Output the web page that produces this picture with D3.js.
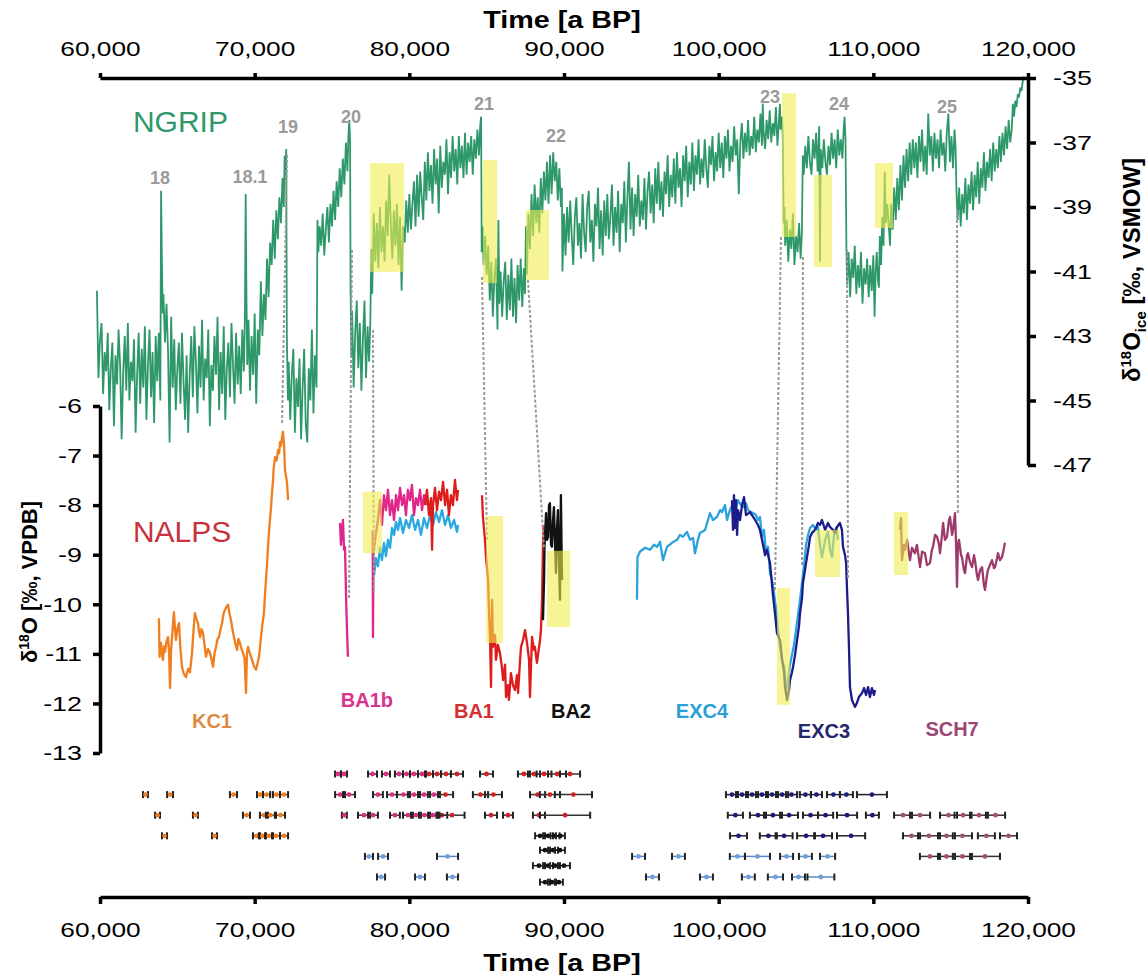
<!DOCTYPE html>
<html>
<head>
<meta charset="utf-8">
<script src="https://cdn.jsdelivr.net/npm/d3@7"></script>
<style>
  body { margin: 0; background: #fff; }
  svg { display: block; font-family: "Liberation Sans", Arial, sans-serif; }
</style>
</head>
<body>
<div id="chart"></div>
<script>
// Time is in ka (thousand years BP); axis labels show years
const timeTicks = [60, 70, 80, 90, 100, 110, 120];
const iceTicks = [-35, -37, -39, -41, -43, -45, -47];
const alpsTicks = [-6, -7, -8, -9, -10, -11, -12, -13];

// NGRIP d18O ice record [ka, permil VSMOW]
const ngrip = [
  [59.8,-41.6],[59.9,-44.3],[60.0,-43.1],[60.1,-42.6],[60.2,-44.8],[60.3,-43.5],[60.4,-44.1],[60.5,-42.9],[60.6,-45.3],[60.7,-44.0],
  [60.8,-43.2],[60.9,-45.8],[61.0,-43.6],[61.1,-44.5],[61.2,-42.8],[61.3,-43.9],[61.4,-46.2],[61.5,-44.1],[61.6,-43.0],[61.7,-44.7],
  [61.8,-42.6],[61.9,-45.0],[62.0,-43.8],[62.1,-44.4],[62.2,-43.1],[62.3,-46.0],[62.4,-44.2],[62.5,-42.9],[62.6,-45.1],[62.7,-43.4],
  [62.8,-44.6],[62.9,-42.7],[63.0,-45.6],[63.1,-43.9],[63.2,-42.8],[63.3,-44.9],[63.4,-43.5],[63.5,-45.7],[63.6,-43.0],[63.7,-44.4],
  [63.8,-42.9],[63.9,-45.0],[63.95,-38.5],[64.0,-40.6],[64.05,-42.3],[64.1,-41.7],[64.2,-43.2],[64.3,-42.0],[64.4,-43.5],[64.5,-46.3],
  [64.6,-42.4],[64.7,-44.6],[64.8,-43.1],[64.9,-45.3],[65.0,-44.0],[65.1,-43.2],[65.2,-45.1],[65.3,-42.9],[65.4,-44.4],[65.5,-45.6],
  [65.6,-43.6],[65.7,-46.0],[65.8,-44.2],[65.9,-43.0],[66.0,-44.9],[66.1,-42.7],[66.2,-43.8],[66.3,-45.4],[66.4,-43.3],[66.5,-44.6],
  [66.6,-42.5],[66.7,-45.0],[66.8,-43.7],[66.9,-44.3],[67.0,-42.8],[67.1,-45.8],[67.2,-43.9],[67.3,-44.7],[67.4,-43.0],[67.5,-44.2],
  [67.6,-42.4],[67.7,-45.3],[67.8,-43.5],[67.9,-44.8],[68.0,-42.7],[68.1,-45.6],[68.2,-44.0],[68.3,-43.2],[68.4,-44.9],[68.5,-42.6],
  [68.6,-43.9],[68.7,-45.1],[68.8,-42.9],[68.9,-44.5],[69.0,-43.3],[69.1,-44.8],[69.2,-42.8],[69.3,-44.1],[69.37,-42.4],[69.42,-38.6],
  [69.47,-41.8],[69.52,-43.9],[69.6,-42.5],[69.7,-44.7],[69.8,-43.0],[69.9,-44.2],[70.0,-42.3],[70.1,-45.1],[70.2,-42.8],[70.3,-43.6],
  [70.4,-41.3],[70.5,-43.0],[70.6,-41.7],[70.7,-42.5],[70.8,-40.6],[70.9,-41.8],[71.0,-40.1],[71.1,-40.8],[71.2,-39.4],[71.3,-40.6],
  [71.4,-39.1],[71.5,-40.0],[71.6,-38.7],[71.7,-39.5],[71.8,-38.1],[71.88,-39.0],[71.94,-37.4],[72.0,-37.9],[72.04,-37.2],[72.08,-43.0],
  [72.15,-45.0],[72.2,-43.8],[72.3,-45.6],[72.4,-44.2],[72.5,-43.4],[72.6,-46.0],[72.7,-44.3],[72.8,-45.2],[72.9,-43.7],[73.0,-46.2],
  [73.1,-44.6],[73.2,-43.4],[73.3,-45.7],[73.4,-46.3],[73.5,-44.0],[73.6,-45.0],[73.7,-42.8],[73.8,-45.4],[73.9,-43.6],[74.0,-44.6],
  [74.06,-39.4],[74.12,-40.4],[74.2,-39.6],[74.3,-40.2],[74.4,-39.2],[74.5,-40.5],[74.6,-39.7],[74.7,-39.0],[74.8,-40.1],[74.9,-38.9],
  [75.0,-39.6],[75.1,-38.5],[75.2,-39.4],[75.3,-38.2],[75.4,-39.0],[75.5,-37.8],[75.6,-38.7],[75.7,-37.5],[75.8,-38.3],[75.9,-37.0],
  [76.0,-37.9],[76.06,-36.8],[76.12,-36.3],[76.17,-37.0],[76.2,-41.5],[76.25,-43.6],[76.3,-42.2],[76.4,-44.6],[76.5,-42.9],[76.6,-41.9],
  [76.7,-44.0],[76.8,-42.6],[76.9,-44.7],[77.0,-43.1],[77.1,-41.9],[77.2,-44.3],[77.3,-42.7],[77.4,-43.8],[77.48,-42.5],[77.54,-40.3],
  [77.6,-41.7],[77.7,-39.2],[77.8,-40.7],[77.9,-39.5],[78.0,-40.9],[78.1,-39.0],[78.2,-40.4],[78.3,-39.6],[78.4,-40.7],[78.5,-38.8],
  [78.6,-39.9],[78.7,-38.0],[78.8,-39.5],[78.9,-40.6],[79.0,-39.1],[79.1,-40.2],[79.2,-38.9],[79.3,-40.8],[79.4,-39.3],[79.5,-41.6],
  [79.6,-39.6],[79.7,-40.1],[79.8,-38.8],[79.9,-39.8],[80.0,-38.6],[80.1,-39.7],[80.2,-38.9],[80.3,-38.2],[80.4,-39.6],[80.5,-38.0],
  [80.6,-39.3],[80.7,-37.9],[80.8,-38.7],[80.9,-39.4],[81.0,-37.6],[81.1,-38.8],[81.2,-37.3],[81.3,-38.5],[81.4,-37.7],[81.5,-38.9],
  [81.6,-37.2],[81.7,-38.3],[81.8,-37.5],[81.9,-39.2],[82.0,-37.1],[82.1,-38.4],[82.2,-37.6],[82.3,-38.0],[82.4,-36.9],[82.5,-38.6],
  [82.6,-37.3],[82.7,-38.1],[82.8,-36.8],[82.9,-37.9],[83.0,-37.2],[83.1,-38.3],[83.2,-36.8],[83.3,-37.8],[83.4,-37.1],[83.5,-38.1],
  [83.6,-36.7],[83.7,-38.0],[83.8,-37.0],[83.9,-37.6],[84.0,-36.8],[84.1,-38.0],[84.2,-36.9],[84.3,-37.5],[84.4,-36.6],[84.5,-37.4],
  [84.58,-36.5],[84.64,-36.2],[84.68,-40.4],[84.74,-39.6],[84.8,-40.8],[84.9,-39.9],[85.0,-41.1],[85.1,-40.2],[85.2,-41.9],[85.3,-40.7],
  [85.4,-42.4],[85.5,-41.2],[85.6,-40.6],[85.7,-42.8],[85.76,-39.4],[85.82,-42.0],[85.9,-41.0],[86.0,-42.4],[86.1,-41.3],[86.2,-40.7],
  [86.3,-42.5],[86.4,-41.1],[86.5,-42.2],[86.6,-40.6],[86.7,-42.4],[86.8,-41.2],[86.9,-42.6],[87.0,-40.8],[87.1,-41.9],[87.2,-40.6],
  [87.3,-42.1],[87.4,-40.9],[87.48,-41.7],[87.54,-39.6],[87.6,-41.1],[87.7,-39.2],[87.8,-40.3],[87.9,-38.6],[88.0,-39.9],[88.1,-38.3],
  [88.2,-39.5],[88.3,-38.7],[88.4,-39.8],[88.5,-38.1],[88.6,-39.2],[88.7,-37.9],[88.8,-38.8],[88.9,-37.6],[89.0,-38.9],[89.1,-37.4],
  [89.2,-38.6],[89.3,-37.3],[89.4,-38.2],[89.5,-37.6],[89.6,-38.8],[89.7,-37.8],[89.8,-39.0],[89.86,-38.4],[89.9,-41.0],[90.0,-39.2],
  [90.1,-40.5],[90.2,-39.0],[90.3,-40.1],[90.4,-38.8],[90.5,-39.9],[90.6,-40.8],[90.7,-39.3],[90.8,-38.7],[90.9,-40.2],[91.0,-39.5],
  [91.1,-40.6],[91.2,-38.6],[91.3,-39.8],[91.4,-40.4],[91.5,-39.0],[91.6,-38.5],[91.7,-40.1],[91.8,-39.4],[91.9,-40.7],[92.0,-38.9],
  [92.1,-39.6],[92.2,-38.4],[92.3,-40.3],[92.4,-39.1],[92.5,-40.5],[92.6,-38.8],[92.7,-39.9],[92.8,-38.6],[92.9,-40.0],[93.0,-39.3],
  [93.1,-38.3],[93.2,-40.2],[93.3,-39.0],[93.4,-39.8],[93.5,-38.5],[93.6,-40.4],[93.7,-38.9],[93.8,-39.5],[93.9,-38.2],[94.0,-40.1],
  [94.1,-38.7],[94.2,-37.6],[94.3,-39.7],[94.4,-38.4],[94.5,-39.9],[94.6,-38.6],[94.7,-39.3],[94.8,-38.0],[94.9,-39.6],[95.0,-38.8],
  [95.1,-39.4],[95.2,-38.1],[95.3,-39.7],[95.4,-38.5],[95.5,-37.9],[95.6,-39.2],[95.7,-38.3],[95.8,-39.5],[95.9,-37.8],[96.0,-38.9],
  [96.1,-37.6],[96.2,-39.1],[96.3,-38.2],[96.4,-39.3],[96.5,-37.9],[96.6,-38.6],[96.7,-37.4],[96.8,-39.0],[96.9,-38.0],[97.0,-38.7],
  [97.1,-37.5],[97.2,-38.9],[97.3,-37.3],[97.4,-38.4],[97.5,-37.8],[97.6,-39.0],[97.7,-37.4],[97.8,-38.2],[97.9,-37.1],[98.0,-38.7],
  [98.1,-37.6],[98.2,-38.3],[98.3,-37.0],[98.4,-38.5],[98.5,-37.4],[98.6,-38.0],[98.7,-36.9],[98.8,-38.3],[98.9,-37.5],[99.0,-38.1],
  [99.1,-36.9],[99.2,-37.8],[99.3,-38.4],[99.4,-37.1],[99.5,-37.7],[99.6,-36.8],[99.7,-38.2],[99.8,-37.3],[99.9,-37.9],[100.0,-36.7],
  [100.1,-37.8],[100.2,-37.0],[100.3,-38.1],[100.4,-36.8],[100.5,-37.5],[100.6,-36.6],[100.7,-37.9],[100.8,-37.1],[100.9,-37.6],[101.0,-36.5],
  [101.1,-37.4],[101.2,-36.9],[101.3,-38.6],[101.4,-37.0],[101.5,-36.4],[101.6,-37.5],[101.7,-36.7],[101.8,-37.3],[101.9,-36.3],[102.0,-37.4],
  [102.1,-36.8],[102.2,-37.2],[102.3,-36.2],[102.4,-37.3],[102.5,-36.6],[102.6,-37.0],[102.7,-36.1],[102.8,-37.1],[102.85,-35.8],[102.9,-36.6],
  [103.0,-37.2],[103.1,-36.3],[103.2,-36.9],[103.3,-36.0],[103.4,-37.0],[103.5,-36.4],[103.6,-36.8],[103.7,-35.9],[103.8,-37.1],[103.9,-36.3],
  [103.96,-35.8],[104.0,-36.6],[104.1,-36.2],[104.15,-36.9],[104.2,-39.5],[104.25,-39.0],[104.3,-40.2],[104.4,-39.4],[104.5,-40.7],[104.6,-39.7],
  [104.7,-40.3],[104.8,-39.2],[104.9,-40.8],[105.0,-39.9],[105.1,-40.4],[105.2,-39.5],[105.3,-40.6],[105.38,-39.8],[105.44,-37.4],[105.5,-38.0],
  [105.6,-37.1],[105.7,-37.8],[105.8,-36.8],[105.9,-37.6],[106.0,-38.0],[106.1,-36.9],[106.2,-37.5],[106.3,-36.7],[106.4,-37.9],[106.5,-36.5],
  [106.55,-40.7],[106.6,-37.2],[106.7,-37.8],[106.8,-36.9],[106.9,-37.6],[107.0,-38.0],[107.1,-37.1],[107.2,-37.7],[107.3,-36.7],[107.4,-37.5],
  [107.5,-36.9],[107.6,-37.8],[107.7,-36.6],[107.8,-37.4],[107.9,-36.9],[108.0,-37.5],[108.08,-36.6],[108.14,-36.2],[108.2,-36.9],[108.26,-40.3],
  [108.3,-41.4],[108.4,-40.4],[108.5,-41.8],[108.6,-40.6],[108.7,-41.2],[108.8,-40.2],[108.9,-41.7],[109.0,-40.8],[109.1,-41.5],[109.2,-40.4],
  [109.3,-42.0],[109.4,-40.9],[109.5,-41.4],[109.6,-40.6],[109.7,-41.8],[109.8,-40.8],[109.9,-41.6],[110.0,-40.5],[110.08,-42.4],[110.15,-41.0],
  [110.22,-40.4],[110.3,-41.3],[110.36,-41.5],[110.42,-39.9],[110.5,-40.8],[110.58,-39.3],[110.66,-40.2],[110.74,-37.9],[110.8,-39.5],[110.9,-38.9],
  [111.0,-39.6],[111.08,-40.2],[111.15,-38.9],[111.25,-39.7],[111.35,-38.4],[111.45,-39.4],[111.55,-38.1],[111.65,-39.1],[111.75,-37.7],[111.85,-38.8],
  [111.95,-37.4],[112.05,-38.4],[112.15,-37.2],[112.25,-38.2],[112.35,-37.0],[112.45,-38.0],[112.55,-36.9],[112.65,-37.8],[112.75,-37.0],[112.85,-38.1],
  [112.95,-36.8],[113.05,-37.6],[113.15,-36.6],[113.25,-37.9],[113.35,-37.1],[113.45,-38.0],[113.55,-36.1],[113.65,-37.4],[113.75,-36.8],[113.85,-37.9],
  [113.95,-36.7],[114.05,-37.5],[114.15,-36.9],[114.25,-37.8],[114.35,-36.6],[114.45,-37.4],[114.55,-37.0],[114.65,-37.9],[114.75,-36.7],[114.85,-36.1],
  [114.95,-37.6],[115.05,-36.8],[115.15,-37.8],[115.25,-36.6],[115.32,-37.2],[115.38,-38.6],[115.45,-39.4],[115.55,-38.4],[115.65,-39.6],[115.75,-38.6],
  [115.85,-39.2],[115.95,-38.1],[116.05,-39.4],[116.15,-38.3],[116.25,-38.9],[116.35,-37.9],[116.45,-39.1],[116.55,-38.0],[116.65,-38.7],[116.75,-37.6],
  [116.85,-38.9],[116.95,-37.8],[117.05,-38.4],[117.15,-37.3],[117.25,-38.5],[117.35,-37.6],[117.45,-38.1],[117.55,-37.2],[117.65,-38.2],[117.75,-37.0],
  [117.85,-37.9],[117.95,-37.2],[118.05,-37.8],[118.15,-36.8],[118.25,-37.6],[118.35,-36.7],[118.45,-37.4],[118.55,-36.5],[118.65,-37.2],[118.75,-36.3],
  [118.85,-37.0],[118.95,-36.6],[119.02,-35.8],[119.1,-36.2],[119.18,-35.7],[119.26,-35.9],[119.34,-35.5],[119.42,-35.6],[119.5,-35.3],[119.58,-35.4],
  [119.66,-35.1],[119.72,-34.95]
];

// NALPS stalagmite d18O records [ka, permil VPDB]
const kc1 = [
  [63.81,-10.28],[63.85,-11.06],[63.94,-10.78],[64.01,-11.0],[64.07,-11.12],[64.14,-10.85],[64.20,-10.96],[64.30,-10.75],[64.40,-10.66],[64.47,-11.0],
  [64.53,-11.69],[64.60,-10.9],[64.66,-10.66],[64.72,-10.4],[64.78,-10.16],[64.85,-10.5],[64.91,-10.72],[65.0,-10.5],[65.11,-10.38],[65.2,-10.9],
  [65.30,-11.26],[65.42,-11.4],[65.56,-11.47],[65.7,-11.3],[65.82,-11.37],[65.95,-10.98],[66.05,-10.5],[66.14,-10.18],[66.24,-10.3],[66.34,-10.38],
  [66.40,-10.55],[66.47,-10.66],[66.56,-10.5],[66.66,-10.58],[66.75,-10.8],[66.85,-11.06],[66.98,-10.9],[67.11,-10.98],[67.2,-11.1],[67.31,-11.26],
  [67.40,-11.0],[67.50,-10.86],[67.6,-10.7],[67.69,-10.66],[67.8,-10.5],[67.89,-10.38],[67.98,-10.2],[68.08,-10.11],[68.18,-10.05],[68.28,-10.01],
  [68.38,-10.2],[68.47,-10.32],[68.56,-10.5],[68.66,-10.66],[68.76,-10.8],[68.86,-10.92],[68.95,-10.7],[69.05,-10.78],[69.15,-10.9],[69.25,-10.98],
  [69.35,-11.1],[69.44,-11.79],[69.50,-11.0],[69.57,-10.86],[69.7,-11.0],[69.83,-11.12],[69.96,-11.25],[70.09,-11.32],[70.18,-11.2],[70.28,-11.06],
  [70.35,-10.85],[70.41,-10.66],[70.50,-10.4],[70.60,-10.18],[70.66,-9.85],[70.73,-9.51],[70.80,-9.2],[70.86,-8.84],[70.96,-8.4],[71.06,-8.04],
  [71.12,-7.75],[71.19,-7.49],[71.22,-7.29],[71.32,-7.03],[71.42,-7.1],[71.51,-6.89],[71.58,-6.95],[71.64,-6.73],[71.70,-6.8],[71.77,-6.63],
  [71.83,-6.52],[71.90,-6.79],[71.96,-7.29],[72.02,-7.4],[72.09,-7.55],[72.16,-7.90]
];
const ba1bA = [
  [75.52,-8.36],[75.58,-8.80],[75.65,-8.50],[75.71,-8.30],[75.78,-8.90],[75.84,-8.84],[75.91,-9.85],[75.97,-10.52],[76.03,-11.06]
];
const ba1bB = [
  [77.63,-8.50],[77.65,-10.66],[77.68,-9.00],[77.78,-8.70],[77.97,-8.30],[78.10,-7.90],[78.23,-8.40],[78.36,-7.80],[78.49,-8.10],[78.62,-7.69],
  [78.75,-8.20],[78.88,-7.90],[79.01,-8.30],[79.14,-7.80],[79.27,-8.10],[79.40,-7.65],[79.53,-8.00],[79.66,-7.80],[79.78,-8.20],[79.91,-7.69],
  [80.04,-7.90],[80.17,-7.59],[80.30,-8.20],[80.43,-7.86],[80.56,-8.00],[80.69,-7.69],[80.82,-8.10],[80.95,-7.80],[81.08,-8.00]
];
const cyanBA = [
  [77.72,-9.41],[77.84,-9.07],[77.97,-9.23],[78.10,-8.86],[78.23,-9.11],[78.36,-8.76],[78.49,-9.03],[78.62,-8.70],[78.75,-8.86],[78.88,-8.46],
  [79.01,-8.60],[79.14,-8.34],[79.27,-8.50],[79.40,-8.26],[79.59,-8.56],[79.78,-8.30],[79.98,-8.46],[80.17,-8.20],[80.37,-8.50],[80.56,-8.30],
  [80.75,-8.60],[80.95,-8.26],[81.14,-8.46],[81.34,-8.20],[81.53,-8.40],[81.72,-8.14],[81.92,-8.34],[82.11,-8.10],[82.31,-8.40],[82.50,-8.20],
  [82.69,-8.46],[82.89,-8.30],[83.08,-8.54],[83.15,-8.40]
];
const ba1A = [
  [81.01,-8.00],[81.14,-7.69],[81.27,-8.20],[81.40,-7.86],[81.47,-8.90],[81.53,-8.00],[81.66,-7.65],[81.79,-8.10],[81.92,-7.73],[82.05,-7.90],
  [82.18,-7.53],[82.31,-8.00],[82.44,-7.69],[82.56,-8.20],[82.69,-7.80],[82.82,-8.00],[82.95,-7.49],[83.08,-7.90],[83.15,-7.69]
];
const ba1B = [
  [84.70,-7.80],[84.76,-8.24],[84.89,-8.70],[84.96,-9.05],[85.09,-9.51],[85.15,-10.11],[85.22,-10.72],[85.28,-11.67],[85.35,-9.91],[85.41,-10.86],
  [85.54,-10.62],[85.60,-11.12],[85.73,-10.82],[85.86,-10.98],[85.99,-11.28],[86.06,-11.53],[86.19,-11.22],[86.25,-11.87],[86.38,-11.63],[86.44,-11.93],
  [86.57,-11.39],[86.70,-11.63],[86.83,-11.73],[86.96,-11.43],[87.03,-11.79],[87.16,-11.12],[87.22,-10.86],[87.35,-10.72],[87.48,-10.52],[87.61,-10.78],
  [87.74,-11.12],[87.80,-11.87],[87.93,-10.66],[88.06,-10.92],[88.12,-10.86],[88.25,-11.18],[88.32,-11.02],[88.45,-10.72],[88.51,-10.52],[88.58,-9.91],
  [88.64,-8.80],[88.68,-8.40]
];
const ba2 = [
  [88.64,-10.32],[88.71,-9.51],[88.74,-8.84],[88.84,-8.16],[88.90,-8.70],[88.97,-8.64],[89.03,-8.00],[89.09,-7.96],[89.16,-8.80],[89.22,-8.84],
  [89.29,-8.30],[89.35,-8.04],[89.41,-8.70],[89.48,-9.37],[89.54,-8.50],[89.61,-8.10],[89.67,-9.11],[89.74,-9.91],[89.80,-7.80],[89.87,-9.51]
];
const exc4 = [
  [94.72,-9.91],[94.75,-9.05],[94.91,-8.94],[95.24,-8.86],[95.56,-8.90],[95.82,-8.80],[96.01,-8.84],[96.21,-8.74],[96.40,-9.11],[96.66,-8.84],
  [96.98,-8.76],[97.31,-8.70],[97.50,-8.60],[97.69,-8.64],[97.95,-8.54],[98.15,-8.70],[98.34,-8.66],[98.47,-8.97],[98.66,-8.70],[98.79,-8.56],
  [99.12,-8.50],[99.31,-8.30],[99.44,-8.16],[99.63,-8.30],[99.89,-8.24],[100.09,-8.10],[100.22,-8.14],[100.41,-8.00],[100.54,-8.30],[100.73,-8.10],
  [100.93,-7.96],[101.12,-8.06],[101.25,-7.90],[101.44,-8.00],[101.57,-8.04],[101.77,-7.96],[101.90,-8.10],[102.09,-8.14],[102.22,-8.16],[102.41,-8.20],
  [102.54,-8.30],[102.67,-8.24],[102.80,-8.64],[102.93,-8.50],[103.06,-8.97],[103.19,-8.84],[103.32,-9.37],[103.45,-9.51],[103.58,-9.77],[103.71,-10.11],
  [103.84,-10.52],[103.97,-10.86],[104.10,-11.12],[104.23,-11.26],[104.36,-11.73],[104.49,-11.53],[104.61,-11.22],[104.74,-11.02],[104.87,-10.82],[105.00,-10.52],
  [105.13,-10.22],[105.26,-9.91],[105.39,-9.57],[105.52,-9.21],[105.65,-8.80],[105.78,-8.60],[105.91,-8.46],[106.10,-8.40],[106.29,-8.50],[106.42,-8.44],
  [106.55,-8.80],[106.68,-9.05],[106.88,-8.70],[107.07,-8.54],[107.20,-8.90],[107.33,-9.05],[107.46,-8.60],[107.59,-8.46],[107.72,-8.70]
];
const exc3 = [
  [100.86,-7.90],[100.93,-8.50],[100.99,-7.80],[101.06,-8.46],[101.12,-7.90],[101.19,-8.60],[101.25,-8.10],[101.38,-8.30],[101.51,-8.00],[101.64,-7.84],
  [101.77,-8.20],[102.03,-8.14],[102.28,-8.26],[102.54,-8.40],[102.67,-8.50],[102.87,-8.80],[103.00,-9.01],[103.12,-8.90],[103.32,-9.17],[103.51,-9.81],
  [103.64,-10.18],[103.77,-10.58],[103.90,-10.68],[103.97,-10.72],[104.10,-11.12],[104.23,-11.37],[104.29,-11.67],[104.42,-11.93],[104.55,-11.73],[104.61,-11.53],
  [104.74,-11.37],[104.81,-11.26],[104.94,-11.02],[105.07,-10.72],[105.20,-10.42],[105.26,-10.18],[105.39,-9.87],[105.45,-9.57],[105.58,-9.31],[105.71,-9.05],
  [105.84,-8.80],[105.91,-8.64],[106.04,-8.56],[106.23,-8.50],[106.42,-8.36],[106.55,-8.40],[106.68,-8.30],[106.88,-8.50],[107.07,-8.36],[107.20,-8.44],
  [107.39,-8.50],[107.52,-8.56],[107.65,-8.44],[107.84,-8.36],[107.97,-8.50],[108.04,-8.84],[108.17,-9.01],[108.24,-9.17],[108.30,-9.71],[108.36,-10.18],
  [108.43,-10.92],[108.49,-11.67],[108.62,-11.93],[108.81,-12.07],[108.94,-11.99],[109.07,-11.87],[109.27,-11.79],[109.40,-11.69],[109.53,-11.83],[109.66,-11.67],
  [109.78,-11.87],[109.91,-11.69],[110.04,-11.83],[110.11,-11.73]
];
const sch7 = [
  [111.72,-8.50],[111.79,-8.26],[111.85,-9.11],[111.98,-8.80],[112.05,-8.90],[112.18,-8.70],[112.37,-9.11],[112.50,-8.86],[112.69,-8.97],[112.82,-8.80],
  [113.02,-9.25],[113.15,-8.94],[113.34,-8.97],[113.47,-9.21],[113.66,-9.17],[113.79,-8.90],[113.86,-8.84],[113.99,-8.60],[114.12,-8.64],[114.25,-8.80],
  [114.31,-8.97],[114.44,-8.60],[114.51,-8.36],[114.63,-8.70],[114.76,-8.64],[114.89,-8.30],[114.96,-8.24],[115.09,-8.60],[115.15,-8.50],[115.28,-8.16],
  [115.34,-8.70],[115.41,-9.65],[115.47,-8.80],[115.54,-8.70],[115.67,-9.01],[115.73,-9.05],[115.86,-9.31],[115.93,-9.37],[116.06,-9.01],[116.12,-8.97],
  [116.25,-9.15],[116.38,-9.25],[116.51,-9.01],[116.57,-9.11],[116.70,-9.41],[116.77,-9.51],[116.90,-9.31],[117.03,-9.25],[117.15,-9.61],[117.22,-9.71],
  [117.35,-9.41],[117.41,-9.31],[117.54,-9.21],[117.67,-9.11],[117.80,-9.27],[117.87,-9.25],[118.00,-9.07],[118.06,-8.97],[118.19,-9.11],[118.32,-9.05],
  [118.45,-8.86],[118.51,-8.76]
];

// Yellow highlighted transitions [t0, t1, v0, v1]
const ngripBoxes = [
  [77.46, 79.66, -37.64, -41.01], [84.76, 85.67, -37.54, -41.36], [87.54, 89.03, -39.09, -41.26],
  [104.09, 105.00, -35.47, -39.93], [106.16, 107.33, -38.01, -40.86], [110.11, 111.27, -37.64, -39.65]
];
const nalpsBoxes = [
  [77.00, 78.23, -7.73, -8.97], [84.96, 86.06, -8.22, -10.78], [88.90, 90.39, -8.92, -10.46],
  [103.77, 104.61, -9.67, -12.03], [106.23, 107.84, -8.50, -9.45], [111.33, 112.24, -8.14, -9.41]
];

// Tie points NGRIP -> NALPS [tIce, vIce, tAlps, vAlps]
const tiePoints = [
  [72.09, -37.39, 71.77, -6.38], [76.29, -40.33, 76.10, -9.91], [77.65, -42.81, 77.71, -9.81],
  [84.70, -41.17, 85.02, -8.70], [87.67, -41.26, 88.71, -8.90], [104.03, -39.93, 103.64, -9.71],
  [105.45, -40.55, 105.39, -9.21], [108.30, -40.33, 108.36, -9.51], [115.41, -39.09, 115.47, -8.20]
];

// Interstadial numbers [label, ka, vIce]
const gisLabels = [
  ["18", 63.88, -38.29], ["18.1", 69.70, -38.26], ["19", 72.16, -36.71], ["20", 76.23, -36.40],
  ["21", 84.83, -35.99], ["22", 89.48, -36.98], ["23", 103.32, -35.78], ["24", 107.78, -35.99], ["25", 114.76, -36.09]
];

// Record names [label, ka, vAlps, color]
const recordLabels = [
  ["KC1", 67.24, -12.49, "#de8a45"], ["BA1b", 77.26, -12.07, "#d8348d"], ["BA1", 84.18, -12.29, "#d42f2f"],
  ["BA2", 90.45, -12.29, "#111111"], ["EXC4", 98.92, -12.29, "#2aa0d8"], ["EXC3", 106.81, -12.70, "#27276e"],
  ["SCH7", 115.09, -12.66, "#9b4774"]
];

// U-Th ages [ka, 2-sigma ka, row]
const kc1Ages = [
  [62.94,0.16,1],[64.53,0.19,1],[68.63,0.23,1],[70.34,0.19,1],[70.77,0.23,1],[71.41,0.23,1],[71.90,0.26,1],
  [63.72,0.16,2],[66.17,0.16,2],[69.47,0.23,2],[70.60,0.26,2],[71.02,0.29,2],[71.67,0.29,2],
  [64.17,0.16,3],[67.40,0.16,3],[70.12,0.23,3],[70.50,0.23,3],[70.93,0.26,3],[71.38,0.26,3],[71.90,0.26,3]
];
const ba1bAges = [
  [75.39,0.19,0],[75.78,0.19,0],[77.62,0.29,0],[78.49,0.26,0],[79.33,0.26,0],[79.82,0.23,0],[80.30,0.26,0],[80.82,0.26,0],
  [75.52,0.32,1],[76.10,0.39,1],[77.97,0.32,1],[78.88,0.32,1],[79.62,0.42,1],[80.30,0.39,1],[80.95,0.39,1],[81.59,0.39,1],
  [75.80,0.16,2],[77.07,0.39,2],[77.65,0.32,2],[79.07,0.32,2],[79.91,0.32,2],[80.43,0.32,2],[80.98,0.36,2],[81.53,0.32,2]
];
const ba1Ages = [
  [81.27,0.26,0],[81.79,0.26,0],[82.37,0.32,0],[83.08,0.39,0],[84.99,0.42,0],[87.41,0.39,0],[88.06,0.39,0],[88.71,0.48,0],[89.55,0.58,0],[90.39,0.65,0],
  [82.34,0.49,1],[84.60,0.49,1],[85.44,0.55,1],[88.29,0.49,1],[89.09,0.65,1],[90.61,1.20,1],
  [82.10,0.35,2],[82.76,0.81,2],[85.28,0.39,2],[86.38,0.32,2],[88.38,0.39,2],[90.07,1.62,2]
];
const ba2Ages = [
  [88.45,0.32,3],[88.97,0.32,3],[89.42,0.29,3],[89.77,0.29,3],
  [88.77,0.32,3.7],[89.29,0.32,3.7],[89.74,0.32,3.7],
  [88.38,0.39,4.45],[88.97,0.32,4.45],[89.42,0.32,4.45],[90.00,0.39,4.45],
  [88.77,0.32,5.25],[89.22,0.26,5.25],[89.67,0.26,5.25]
];
const blueAges = [
  [77.39,0.26,4],[78.30,0.32,4],[82.47,0.68,4],[94.82,0.42,4],[97.40,0.42,4],[101.21,0.49,4],[102.51,0.81,4],[104.39,0.42,4],[105.61,0.42,4],[107.04,0.49,4],
  [78.17,0.26,5],[80.69,0.32,5],[82.79,0.36,5],[95.72,0.42,5],[99.21,0.42,5],[101.92,0.42,5],[103.67,0.49,5],[105.16,0.42,5],[106.61,0.87,5]
];
const exc3Ages = [
  [100.86,0.39,1],[101.51,0.39,1],[102.16,0.39,1],[102.80,0.39,1],[103.45,0.39,1],[104.10,0.39,1],[104.71,0.36,1],[105.61,0.36,1],[106.32,0.36,1],[107.42,0.42,1],[108.26,0.42,1],[109.91,0.97,1],
  [101.08,0.49,2],[102.54,0.52,2],[103.51,0.58,2],[104.55,0.58,2],[105.94,0.49,2],[106.91,0.49,2],[108.30,0.65,2],[109.94,0.42,2],
  [101.28,0.55,3],[103.21,0.55,3],[104.23,0.55,3],[105.65,0.58,3],[106.75,0.58,3],[108.56,0.91,3]
];
const sch7Ages = [
  [111.92,0.58,2],[113.02,0.65,2],[114.86,0.55,2],[115.80,0.55,2],[116.83,0.58,2],[117.90,0.62,2],
  [112.47,0.55,3],[113.60,0.71,3],[114.73,0.55,3],[115.76,0.62,3],[117.31,0.55,3],[118.74,0.55,3],
  [113.66,0.65,4],[114.73,0.55,4],[115.76,0.62,4],[117.22,0.97,4]
];

// Scales
const x = d3.scaleLinear().domain([60, 120]).range([100, 1028]);
const yIce = d3.scaleLinear().domain([-35, -47]).range([78, 465]);
const yAlps = d3.scaleLinear().domain([-6, -13]).range([406, 753]);
const yRow = d3.scaleLinear().domain([0, 5]).range([774, 877]);

const svg = d3.select("#chart").append("svg").attr("width", 1148).attr("height", 975);

// widen text to match the stretched look of the original figure
function stretch(sel, k) {
  sel.each(function () {
    const w = this.getComputedTextLength();
    d3.select(this).attr("textLength", w * k).attr("lengthAdjust", "spacingAndGlyphs");
  });
}

// Curves
const iceLine = d3.line().x((d) => x(d[0])).y((d) => yIce(d[1]));
const alpsLine = d3.line().x((d) => x(d[0])).y((d) => yAlps(d[1]));

svg.append("path").attr("d", iceLine(ngrip)).attr("fill", "none").attr("stroke", "#2f986a").attr("stroke-width", 1.8);

const alpsSeries = [
  [kc1, "#f07d1e"], [ba1bA, "#e0268a"], [cyanBA, "#2aa9e0"], [ba1bB, "#e0268a"], [ba1A, "#dd1c1c"], [ba1B, "#dd1c1c"],
  [ba2, "#111111"], [exc4, "#2aa3dc"], [exc3, "#1b1b8a"], [sch7, "#9c3a6a"]
];
alpsSeries.forEach(([data, color]) => {
  svg.append("path").attr("d", alpsLine(data)).attr("fill", "none").attr("stroke", color).attr("stroke-width", 2.3).attr("stroke-linejoin", "round");
});

// Tie-point dashed lines
svg.selectAll(".tie").data(tiePoints).join("line").attr("class", "tie")
  .attr("x1", (d) => x(d[0])).attr("y1", (d) => yIce(d[1]))
  .attr("x2", (d) => x(d[2])).attr("y2", (d) => yAlps(d[3]))
  .attr("stroke", "#9a9a9a").attr("stroke-width", 2).attr("stroke-dasharray", "3,2");

// Yellow boxes
svg.selectAll(".ibox").data(ngripBoxes).join("rect").attr("class", "ibox")
  .attr("x", (d) => x(d[0])).attr("width", (d) => x(d[1]) - x(d[0]))
  .attr("y", (d) => yIce(d[2])).attr("height", (d) => yIce(d[3]) - yIce(d[2]))
  .attr("fill", "#f2ec4e").attr("opacity", 0.6);
svg.selectAll(".abox").data(nalpsBoxes).join("rect").attr("class", "abox")
  .attr("x", (d) => x(d[0])).attr("width", (d) => x(d[1]) - x(d[0]))
  .attr("y", (d) => yAlps(d[2])).attr("height", (d) => yAlps(d[3]) - yAlps(d[2]))
  .attr("fill", "#f2ec4e").attr("opacity", 0.6);

// Dating error bars
function drawAges(data, dotColor, barColor) {
  const g = svg.append("g").selectAll("g").data(data).join("g")
    .attr("transform", (d) => `translate(0,${yRow(d[2])})`);
  g.append("line").attr("x1", (d) => x(d[0] - d[1])).attr("x2", (d) => x(d[0] + d[1]))
    .attr("stroke", barColor).attr("stroke-width", 1.5);
  g.append("line").attr("x1", (d) => x(d[0] - d[1])).attr("x2", (d) => x(d[0] - d[1])).attr("y1", -3.5).attr("y2", 3.5)
    .attr("stroke", "#222").attr("stroke-width", 2);
  g.append("line").attr("x1", (d) => x(d[0] + d[1])).attr("x2", (d) => x(d[0] + d[1])).attr("y1", -3.5).attr("y2", 3.5)
    .attr("stroke", "#222").attr("stroke-width", 2);
  g.append("circle").attr("cx", (d) => x(d[0])).attr("r", 2.4).attr("fill", dotColor);
}
drawAges(kc1Ages, "#f07d1e", "#6b4a2a");
drawAges(ba1bAges, "#d8307f", "#333");
drawAges(ba1Ages, "#d42020", "#333");
drawAges(ba2Ages, "#111", "#111");
drawAges(blueAges, "#6f9fd8", "#5b86c4");
drawAges(exc3Ages, "#1b1b7a", "#222");
drawAges(sch7Ages, "#a0506e", "#333");

// Labels
const textFont = "Liberation Sans, Arial, sans-serif";
svg.selectAll(".gis").data(gisLabels).join("text").attr("class", "gis")
  .attr("x", (d) => x(d[1])).attr("y", (d) => yIce(d[2]))
  .attr("text-anchor", "middle").attr("font-size", 18).attr("font-weight", "bold").attr("fill", "#9a9a9a")
  .text((d) => d[0]);

svg.selectAll(".rec").data(recordLabels).join("text").attr("class", "rec")
  .attr("x", (d) => x(d[1])).attr("y", (d) => yAlps(d[2]))
  .attr("text-anchor", "middle").attr("font-size", 20).attr("font-weight", "bold").attr("fill", (d) => d[3])
  .text((d) => d[0]);

svg.append("text").attr("x", x(62.13)).attr("y", yIce(-36.67)).attr("font-size", 30).attr("fill", "#2f986a").text("NGRIP");
svg.append("text").attr("x", x(62.13)).attr("y", yAlps(-8.74)).attr("font-size", 30).attr("fill", "#c8313d").text("NALPS");

// Axes
const fmtYears = (d) => d3.format(",")(d * 1000);
const topAxis = svg.append("g").attr("transform", `translate(0,${yIce(-35)})`)
  .call(d3.axisTop(x).tickValues(timeTicks).tickFormat(fmtYears).tickSize(5).tickSizeOuter(0).tickPadding(17));
const bottomAxis = svg.append("g").attr("transform", "translate(0,897)")
  .call(d3.axisBottom(x).tickValues(timeTicks).tickFormat(fmtYears).tickSize(7).tickSizeOuter(0).tickPadding(18));
const rightAxis = svg.append("g").attr("transform", `translate(${x(120)},0)`)
  .call(d3.axisRight(yIce).tickValues(iceTicks).tickFormat((d) => String(d)).tickSize(8).tickSizeOuter(0).tickPadding(17));
const leftAxis = svg.append("g").attr("transform", `translate(${x(60)},0)`)
  .call(d3.axisLeft(yAlps).tickValues(alpsTicks).tickFormat((d) => String(d)).tickSize(7).tickSizeOuter(0).tickPadding(11));

[topAxis, bottomAxis, rightAxis, leftAxis].forEach((a) => {
  a.select(".domain").attr("stroke", "#000").attr("stroke-width", 3.5);
  a.selectAll(".tick line").attr("stroke", "#000").attr("stroke-width", 3.5);
  a.selectAll(".tick text").attr("font-family", textFont).attr("font-size", 21).attr("fill", "#000");
});
stretch(topAxis.selectAll(".tick text"), 1.25);
stretch(bottomAxis.selectAll(".tick text"), 1.25);
stretch(rightAxis.selectAll(".tick text"), 1.28);
stretch(leftAxis.selectAll(".tick text"), 1.28);

// Axis titles
const tTop = svg.append("text").attr("x", 562).attr("y", 28).attr("text-anchor", "middle")
  .attr("font-size", 23).attr("font-weight", "bold").text("Time [a BP]");
const tBottom = svg.append("text").attr("x", 562).attr("y", 971).attr("text-anchor", "middle")
  .attr("font-size", 23).attr("font-weight", "bold").text("Time [a BP]");
stretch(tTop, 1.25);
stretch(tBottom, 1.25);

const rTitle = svg.append("text").attr("transform", "translate(1140,270) rotate(-90)")
  .attr("text-anchor", "middle").attr("font-size", 24).attr("font-weight", "bold");
rTitle.append("tspan").text("δ");
rTitle.append("tspan").attr("font-size", 15).attr("dy", -9).text("18");
rTitle.append("tspan").attr("dy", 9).text("O");
rTitle.append("tspan").attr("font-size", 15).attr("dy", 6).text("ice");
rTitle.append("tspan").attr("dy", -6).text(" [‰, VSMOW]");

const lTitle = svg.append("text").attr("transform", "translate(37,582) rotate(-90)")
  .attr("text-anchor", "middle").attr("font-size", 22).attr("font-weight", "bold");
lTitle.append("tspan").text("δ");
lTitle.append("tspan").attr("font-size", 14).attr("dy", -8).text("18");
lTitle.append("tspan").attr("dy", 8).text("O [‰, VPDB]");
</script>
</body>
</html>
